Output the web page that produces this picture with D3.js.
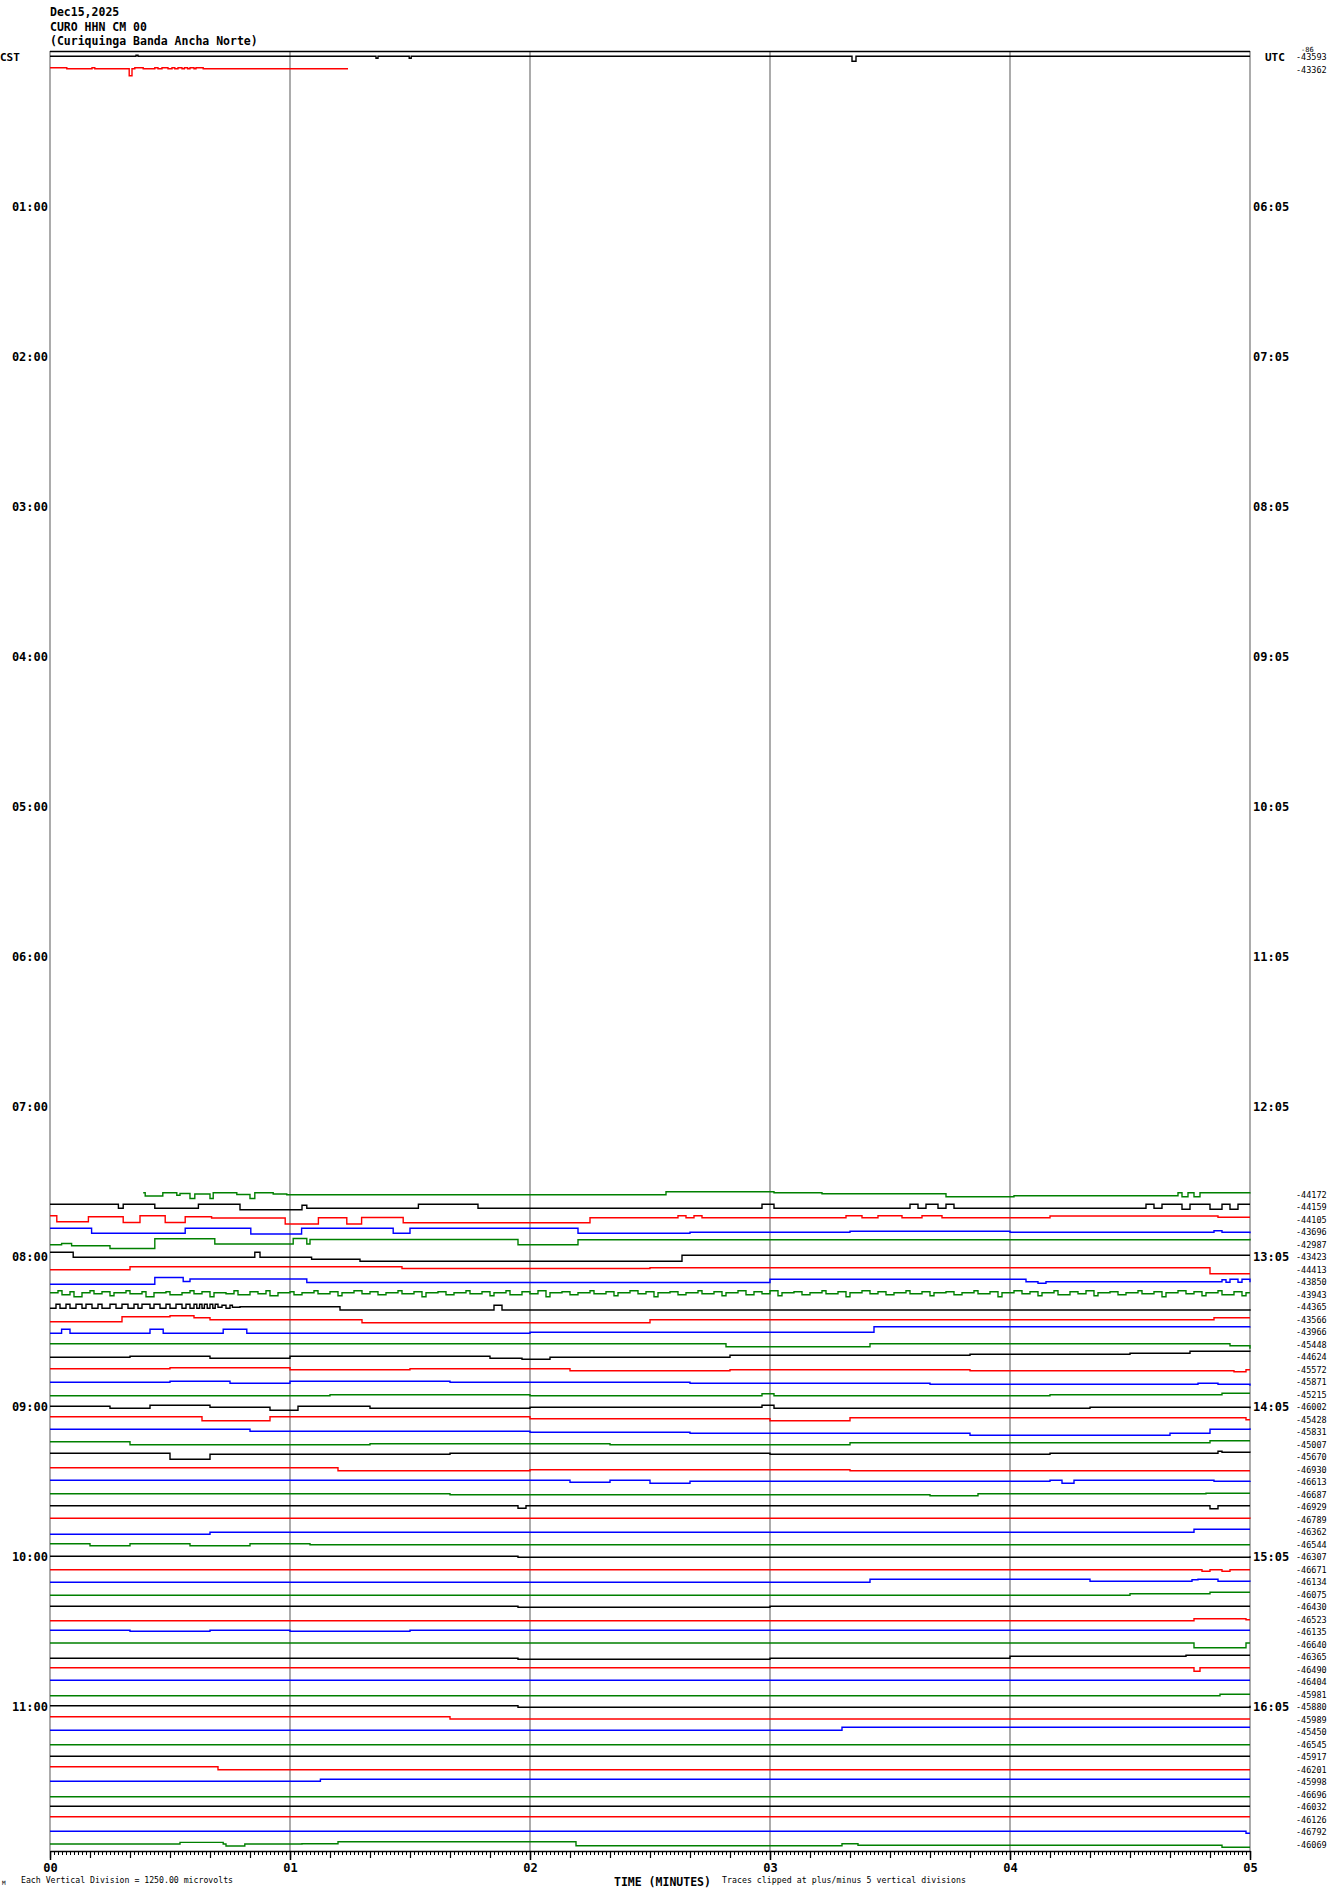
<!DOCTYPE html>
<html>
<head>
<meta charset="utf-8">
<script src="https://cdn.jsdelivr.net/npm/d3@7"></script>
<style>
body { margin: 0; background: #fff; }
svg text { font-family: "DejaVu Sans Mono", "Liberation Mono", monospace; }
</style>
</head>
<body>
<script>
// header + labels
var headerLines = ["Dec15,2025", "CURO HHN CM 00", "(Curiquinga Banda Ancha Norte)"];
var minuteLabels = ["00", "01", "02", "03", "04", "05"];
var cstLabels = ["CST", "01:00", "02:00", "03:00", "04:00", "05:00", "06:00", "07:00", "08:00", "09:00", "10:00", "11:00"];
var utcLabels = ["UTC", "06:05", "07:05", "08:05", "09:05", "10:05", "11:05", "12:05", "13:05", "14:05", "15:05", "16:05"];
var rowColors = ["#000000", "#ff0000", "#0000ff", "#008000"];

// rows that carry data and the count printed at their right end
var labelRows = [0, 1].concat(d3.range(91, 144));
var labelText = ["-43593", "-43362",
  "-44172", "-44159", "-44105", "-43696", "-42987", "-43423", "-44413", "-43850", "-43943", "-44365",
  "-43566", "-43966", "-45448", "-44624", "-45572", "-45871", "-45215", "-46002", "-45428", "-45831",
  "-45007", "-45670", "-46930", "-46613", "-46687", "-46929", "-46789", "-46362", "-46544", "-46307",
  "-46671", "-46134", "-46075", "-46430", "-46523", "-46135", "-46640", "-46365", "-46490", "-46404",
  "-45981", "-45880", "-45989", "-45450", "-46545", "-45917", "-46201", "-45998", "-46696", "-46032",
  "-46126", "-46792", "-46069"];

// traces: [seconds, amplitude in 100 microvolt units, up is positive]
var tr000 = [[0,1],[21.5,2],[22,1],[81.5,-1],[82,1],[89.8,-1],[90.3,1],[200.5,-4],[201.5,1],[300,1]];
var tr001 = [[0,2],[4.2,1],[10.5,2],[11.2,1],[19.8,-6],[20.5,1],[21.2,2],[23.3,1],[26.2,2],[27,1],[28,2],[29.5,1],[30.5,2],[31.2,1],[32,2],[33,1],[33.6,2],[34.4,1],[35,2],[36,1],[36.5,2],[38.3,1],[74.5,1]];
var tr091 = [[23.3,2],[23.8,-1.3],[28.2,2],[31.7,-0.5],[32.5,1.3],[35,-3.7],[36.2,0.7],[40,-3.7],[40.8,2],[46.7,0.3],[50,-3.7],[51.2,2],[55.8,0.7],[59.2,0],[154,3],[181,2],[193,1],[224,-2],[241,-1],[282,2],[283,-2],[284.5,2],[286,-2],[287.5,2],[300,2.4]];
var tr092 = [[0,3],[17.1,-1],[18.3,3],[26.2,-1],[37.1,3],[47.5,-2.5],[63,2],[64.2,-1],[92.1,3],[107,-1],[178,3],[181,-1],[215,3],[217,-1],[219,3],[222,-1],[224,3],[226,-1],[274,3],[276,-1],[278,3],[283,-2],[285,3],[290,-2],[293,3],[295,-2],[297,3],[300,3]];
var tr093 = [[0,4],[1.7,-2],[9.6,3],[18.3,-2.7],[22.5,4],[28.8,-2.7],[33.8,3],[40.4,1.7],[58.8,-4.3],[67.1,2],[74.2,-4.3],[77.9,2.3],[88.3,-3],[135,2],[157,4],[159,2],[161,4],[163,2],[199,4],[203,2],[207,4],[213,2],[218,4],[223,2],[250,3.7],[292,2.5],[300,2.5]];
var tr094 = [[0,4],[10.4,-1],[33.8,4],[50.2,-1.7],[62.9,4],[85.8,-1],[90,4],[132,-1],[160,0],[200,1],[240,0],[291,1.5],[293,0],[300,-1]];
var tr095 = [[0,0],[2.9,1.3],[5.4,-1],[15,-3.7],[26.2,6],[41.2,0.7],[60.8,6.3],[64.2,0.7],[65,5.3],[117,0],[132,5],[160,5],[300,6]];
var tr096 = [[0,5],[5.8,0],[51.2,5],[52.5,0],[65.4,-2],[77.5,-4],[158,2],[300,2]];
var tr097 = [[0,0],[20,3],[88,1.3],[150,2],[290,-4],[300,-4]];
var tr098 = [[0,-2],[26.2,4.7],[33.3,0.7],[35,3.3],[64.2,-0.3],[180,3],[244,0.5],[247,-1],[249,0.5],[293,2.5],[294,0],[295,3],[297,0],[298,3],[300,0]];
var tr099 = [[0,2],[2,4],[3,0],[5,3],[6,-2],[8,2],[10,4],[11,1],[13,3],[15,-1],[16,2],[19,4],[20,1],[23,3],[24,-2],[26,2],[29,3],[30,0],[33,2],[35,4],[36,1],[38,3],[40,-2],[41,2],[44,1],[46,4],[47,0],[50,3],[52,1],[54,4],[55,-1],[57,2],[60,3],[61,0],[63,2],[66,4],[67,1],[70,3],[72,-1],[73,2],[76,4],[78,1],[80,3],[82,0],[84,2],[87,4],[88,1],[91,3],[93,-2],[94,2],[97,3],[99,0],[101,2],[104,4],[105,1],[108,3],[110,-1],[111,2],[114,4],[115,0],[118,3],[120,1],[122,4],[124,-2],[125,2],[128,3],[130,0],[132,2],[135,4],[136,1],[139,3],[141,-1],[142,2],[145,4],[147,1],[149,3],[151,-2],[152,2],[155,3],[157,0],[159,2],[162,4],[163,1],[166,3],[168,-1],[169,2],[172,4],[174,0],[176,3],[178,1],[180,4],[182,-1],[183,2],[186,3],[188,0],[190,2],[193,4],[194,1],[197,3],[199,-2],[200,2],[203,4],[205,1],[207,3],[209,0],[211,2],[214,4],[215,1],[218,3],[220,-1],[221,2],[224,3],[226,0],[228,2],[231,4],[232,1],[235,3],[237,-2],[238,2],[241,4],[243,1],[245,3],[247,-1],[248,2],[251,4],[252,0],[255,3],[257,1],[259,4],[261,-1],[262,2],[265,3],[267,0],[269,2],[272,4],[273,1],[276,3],[278,-2],[279,2],[282,4],[284,1],[286,3],[288,-1],[289,2],[292,4],[293,0],[296,3],[298,-1],[299,2],[300,2]];
var tr100 = [[0,-1],[1.5,3],[2.5,-1],[4,3],[5,-1],[6.5,3],[8,-1],[9,3],[10.5,-1],[12,3],[13,-1],[15,3],[16.5,-1],[18,3],[19.5,-1],[21,3],[22,-1],[23,3],[25,-1],[26,3],[27.5,-1],[29,3],[30,-1],[31.5,3],[33,-1],[34,3],[35,-1],[36,3],[36.7,-1],[37.4,3],[38,-1],[38.6,3],[39.3,-1],[40,3],[40.7,-1],[41.3,3],[42,0],[43,2],[44,-1],[45,2],[45.6,0],[47.5,0.5],[72.5,-2.7],[110,-2.7],[111,2],[113,-2.7],[300,-3.6]];
var tr101 = [[0,-2],[18,3],[30,4],[36,2],[40,0],[78,-3],[150,0],[290,0],[291,2],[300,2]];
var tr102 = [[0,-1],[2.9,3],[5,-1],[25,3],[28.3,-1],[43.3,3],[49.2,-1],[120,0],[206,5.5],[300,5.7]];
var tr103 = [[0,1],[169,-2],[205,1],[295,-1],[300,-4]];
var tr104 = [[0,0],[20,1],[40,-1],[60,1],[110,-1],[118,-2],[125,0],[170,2],[230,3],[270,4],[285,6],[300,5.5]];
var tr105 = [[0,1],[30,2],[60,0],[90,1],[130,-1],[170,0],[230,-1],[296,-2],[299,0],[300,0]];
var tr106 = [[0,0],[30,1],[45,-1],[60,1],[100,0],[160,-1],[220,-2],[287,-1],[292,-2],[300,-3.5]];
var tr107 = [[0,-1],[70,0],[120,-1],[178,1],[181,-1],[250,0],[293,1.5],[300,1.5]];
var tr108 = [[0,1],[15,-1],[25,2],[40,0],[55,-3],[62,1],[80,-1],[120,0],[178,2],[181,-1],[260,0],[300,-1]];
var tr109 = [[0,3],[38,-1],[55,3],[120,1],[180,-1],[200,2],[299,0],[300,0]];
var tr110 = [[0,3],[50,1],[120,0],[160,-1],[230,-3],[280,-1],[290,3],[300,4]];
var tr111 = [[0,3],[20,0],[80,1],[140,0],[200,2],[287,2],[290,4],[300,4]];
var tr112 = [[0,4],[30,-2],[40,3],[100,4],[180,3],[250,4],[292,6],[293,5],[300,4.5]];
var tr113 = [[0,2],[72,-1],[120,0],[200,-1],[290,-1],[300,-1]];
var tr114 = [[0,2],[130,0],[140,2],[150,-1],[160,1],[250,2],[253,-1],[256,2],[291,1],[300,1.5]];
var tr115 = [[0,1],[100,0],[220,-1],[232,1],[289,1.5],[300,1.5]];
var tr116 = [[0,1.5],[117,-1],[119,1.5],[290,-1.5],[292,1.5],[300,1.5]];
var tr117 = [[0,1.5],[300,1]];
var tr118 = [[0,-2],[40,0],[286,3],[300,3]];
var tr119 = [[0,1],[10,-1],[20,1],[35,-1],[50,1],[65,0],[120,0],[300,0]];
var tr120 = [[0,1],[117,0],[300,1]];
var tr121 = [[0,0],[288,-1.5],[290,0],[293,-1.5],[295,0],[300,0]];
var tr122 = [[0,0],[205,3],[260,1],[285.5,2.5],[287,3],[292,1],[300,0.5]];
var tr123 = [[0,-0.5],[270,1],[290,2.5],[300,2.5]];
var tr124 = [[0,1],[117,0],[180,1],[300,1]];
var tr125 = [[0,-1],[286,1],[299,0],[300,0]];
var tr126 = [[0,2],[20,1],[40,2],[60,1],[90,2],[300,2]];
var tr127 = [[0,1.7],[286,-3],[299,1.7],[300,1.7]];
var tr128 = [[0,-1],[117,-2],[180,-1],[240,1],[284,2],[300,2]];
var tr129 = [[0,2],[286,-1.5],[287.5,2],[300,2]];
var tr130 = [[0,2],[300,2]];
var tr131 = [[0,-1],[292.5,0.5],[300,0.5]];
var tr132 = [[0,1.5],[117,0],[300,1.5]];
var tr133 = [[0,3],[100,0.7],[300,0.7]];
var tr134 = [[0,2],[198,5],[300,5]];
var tr135 = [[0,0],[300,0]];
var tr136 = [[0,1],[300,1]];
var tr137 = [[0,3],[42,0],[300,0]];
var tr138 = [[0,1],[67.6,3],[300,3]];
var tr139 = [[0,-2],[300,-2]];
var tr140 = [[0,1],[300,1]];
var tr141 = [[0,3],[300,3]];
var tr142 = [[0,1],[299,-1],[300,-1]];
var tr143 = [[0,0.7],[32.5,2.4],[43.3,0.7],[44,-1.2],[48.7,0.7],[63,1],[72,3],[131.5,-1],[198,1],[202,-0.5],[262,-0.5],[293,-2.5],[300,-2.5]];

var traces = [[0,tr000],[1,tr001],[91,tr091],[92,tr092],[93,tr093],[94,tr094],[95,tr095],[96,tr096],[97,tr097],
  [98,tr098],[99,tr099],[100,tr100],[101,tr101],[102,tr102],[103,tr103],[104,tr104],[105,tr105],[106,tr106],
  [107,tr107],[108,tr108],[109,tr109],[110,tr110],[111,tr111],[112,tr112],[113,tr113],[114,tr114],[115,tr115],
  [116,tr116],[117,tr117],[118,tr118],[119,tr119],[120,tr120],[121,tr121],[122,tr122],[123,tr123],[124,tr124],
  [125,tr125],[126,tr126],[127,tr127],[128,tr128],[129,tr129],[130,tr130],[131,tr131],[132,tr132],[133,tr133],
  [134,tr134],[135,tr135],[136,tr136],[137,tr137],[138,tr138],[139,tr139],[140,tr140],[141,tr141],[142,tr142],[143,tr143]];

var width = 1330, height = 1894;

var svg = d3.select("body").append("svg")
  .attr("width", width)
  .attr("height", height);

// scales: 5 minutes across, 144 five-minute rows down, 1 division = 12.5 units
var x = d3.scaleLinear().domain([0, 300]).range([50, 1250]);
var rowY = d3.scaleLinear().domain([0, 144]).range([51, 1851]);
var amp = d3.scaleLinear().domain([-62.5, 62.5]).range([62.5, -62.5]);

// header
svg.selectAll("text.head")
  .data(headerLines)
  .enter().append("text")
  .attr("x", 50)
  .attr("y", function(d, i) { return 16 + i * 14.5; })
  .attr("font-size", "11.5px")
  .attr("font-weight", "bold")
  .text(function(d) { return d; });

// minute grid
svg.selectAll("line.grid")
  .data(d3.range(0, 301, 60))
  .enter().append("line")
  .attr("x1", function(d) { return x(d); })
  .attr("x2", function(d) { return x(d); })
  .attr("y1", 51)
  .attr("y2", 1851)
  .attr("stroke", "#888")
  .attr("stroke-width", 1.4);

svg.append("line")
  .attr("x1", x(0)).attr("x2", x(300))
  .attr("y1", 51.5).attr("y2", 51.5)
  .attr("stroke", "#000")
  .attr("stroke-width", 1.6);

// traces
var line = d3.line()
  .x(function(d) { return x(d[0]); })
  .y(function(d) { return amp(Math.max(-62.5, Math.min(62.5, d[1]))); })
  .curve(d3.curveStepAfter);

traces.forEach(function(t) {
  svg.append("path")
    .attr("d", line(t[1]))
    .attr("transform", "translate(0," + rowY(t[0] + 0.5) + ")")
    .attr("fill", "none")
    .attr("stroke", rowColors[t[0] % 4])
    .attr("stroke-width", 1.4);
});

// hour labels
svg.selectAll("text.cst")
  .data(cstLabels)
  .enter().append("text")
  .attr("x", function(d, i) { return i == 0 ? 0 : 48; })
  .attr("y", function(d, i) { return rowY(i * 12 + 0.5); })
  .attr("dy", "0.35em")
  .attr("text-anchor", function(d, i) { return i == 0 ? "start" : "end"; })
  .attr("font-size", function(d, i) { return i == 0 ? "11px" : "12px"; })
  .attr("font-weight", "bold")
  .text(function(d) { return d; });

svg.selectAll("text.utc")
  .data(utcLabels)
  .enter().append("text")
  .attr("x", function(d, i) { return i == 0 ? 1265 : 1253; })
  .attr("y", function(d, i) { return rowY(i * 12 + 0.5); })
  .attr("dy", "0.35em")
  .attr("font-size", function(d, i) { return i == 0 ? "11px" : "12px"; })
  .attr("font-weight", "bold")
  .text(function(d) { return d; });

svg.selectAll("text.cnt")
  .data(labelRows)
  .enter().append("text")
  .attr("x", 1296)
  .attr("y", function(d) { return rowY(d + 0.5); })
  .attr("dy", "0.35em")
  .attr("font-size", "8.5px")
  .text(function(d, i) { return labelText[i]; });

svg.append("text")
  .attr("x", 1301).attr("y", 52)
  .attr("font-size", "7px")
  .text("-86");

// time axis: seconds, ten seconds, minutes
var axisY = 1851;
svg.append("g")
  .attr("transform", "translate(0," + axisY + ")")
  .call(d3.axisBottom(x).tickValues(d3.range(0, 301, 1)).tickSize(4).tickSizeOuter(0).tickFormat(""))
  .call(function(g) { g.selectAll(".tick line").attr("stroke-width", 1); });
svg.append("g")
  .attr("transform", "translate(0," + axisY + ")")
  .call(d3.axisBottom(x).tickValues(d3.range(0, 301, 10)).tickSize(7).tickSizeOuter(0).tickFormat(""))
  .call(function(g) { g.select(".domain").remove(); g.selectAll(".tick line").attr("stroke-width", 1.2); });
svg.append("g")
  .attr("transform", "translate(0," + axisY + ")")
  .call(d3.axisBottom(x).tickValues(d3.range(0, 301, 60)).tickSize(9).tickSizeOuter(0)
    .tickFormat(function(d, i) { return minuteLabels[i]; }))
  .call(function(g) {
    g.select(".domain").remove();
    g.selectAll(".tick line").attr("stroke-width", 1.5);
    g.selectAll(".tick text")
      .attr("font-family", "DejaVu Sans Mono, monospace")
      .attr("font-size", "12px")
      .attr("font-weight", "bold")
      .attr("fill", "#000");
  });
svg.selectAll(".domain").attr("stroke-width", 1.5);

// footer
svg.append("text").attr("x", 2).attr("y", 1885).attr("font-size", "6px").text("M");
svg.append("text")
  .attr("x", 21).attr("y", 1883)
  .attr("font-size", "8.2px")
  .attr("textLength", 212)
  .text("Each Vertical Division = 1250.00 microvolts");
svg.append("text")
  .attr("x", 614).attr("y", 1886)
  .attr("font-size", "11.5px")
  .attr("font-weight", "bold")
  .text("TIME (MINUTES)");
svg.append("text")
  .attr("x", 722).attr("y", 1883)
  .attr("font-size", "8.2px")
  .attr("textLength", 244)
  .text("Traces clipped at plus/minus 5 vertical divisions");
</script>
</body>
</html>
